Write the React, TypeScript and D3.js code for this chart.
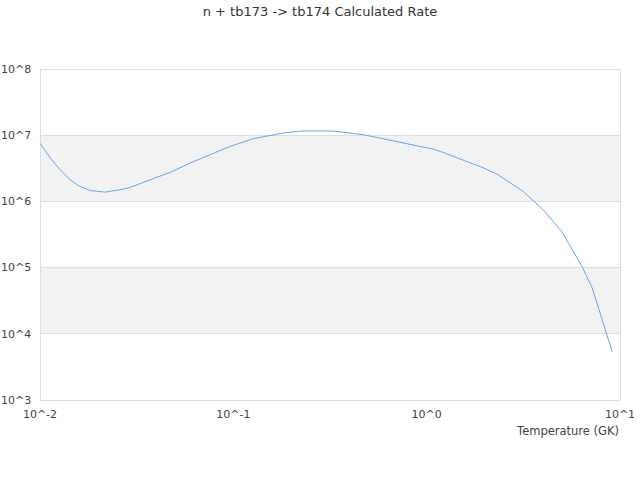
import { useEffect, useRef } from 'react';
import * as d3 from 'd3';

// temperature grid (GK) and calculated rate
const temps = [0.01, 0.0113, 0.0127, 0.0143, 0.0161, 0.0182, 0.0217, 0.0259, 0.0292, 0.0371,
  0.0471, 0.0597, 0.0757, 0.0961, 0.1265, 0.181, 0.226, 0.328, 0.469, 0.67,
  0.924, 1.08, 1.27, 1.74, 1.89, 2.31, 3.16, 4.01, 5.01, 6.37, 7.18, 9.1];
const rates = [7.55e6, 4.52e6, 3.01e6, 2.12e6, 1.68e6, 1.46e6, 1.38e6, 1.5e6, 1.62e6, 2.12e6,
  2.74e6, 3.79e6, 5.06e6, 6.76e6, 8.84e6, 1.08e7, 1.156e7, 1.156e7, 1.02e7, 8.24e6,
  6.76e6, 6.18e6, 5.25e6, 3.67e6, 3.37e6, 2.59e6, 1.41e6, 7.46e5, 3.47e5, 1.03e5, 4.94e4, 5.42e3];

const xTicks = [0.01, 0.1, 1, 10];
const xTickLabels = ['10^-2', '10^-1', '10^0', '10^1'];
const yTicks = [1e3, 1e4, 1e5, 1e6, 1e7, 1e8];
const yTickLabels = ['10^3', '10^4', '10^5', '10^6', '10^7', '10^8'];

const title = 'n + tb173 -> tb174 Calculated Rate';
const xTitle = 'Temperature (GK)';

const W = 640;
const H = 480;
const margin = { top: 69, right: 20, bottom: 80, left: 40 };

export default function App() {
  const svgRef = useRef(null);

  useEffect(() => {
    const svg = d3.select(svgRef.current);
    svg.selectAll('*').remove();

    const width = W - margin.left - margin.right;
    const height = H - margin.top - margin.bottom;
    const font = '"DejaVu Sans", sans-serif';

    const x = d3.scaleLog().domain([0.01, 10]).range([margin.left, margin.left + width]);
    const y = d3.scaleLog().domain([1e3, 1e8]).range([margin.top + height, margin.top]);

    svg.append('rect').attr('width', W).attr('height', H).attr('fill', '#fff');

    // alternating bands
    for (let i = 0; i < yTicks.length - 1; i++) {
      if (i % 2 === 1) {
        svg.append('rect')
          .attr('x', x(0.01))
          .attr('y', y(yTicks[i + 1]))
          .attr('width', width)
          .attr('height', y(yTicks[i]) - y(yTicks[i + 1]))
          .attr('fill', '#f2f2f2');
      }
    }

    // grid lines
    svg.append('g').selectAll('line')
      .data(yTicks)
      .join('line')
      .attr('x1', x(0.01))
      .attr('x2', x(10))
      .attr('y1', d => y(d))
      .attr('y2', d => y(d))
      .attr('stroke', '#dedede')
      .attr('stroke-width', 1)
      .attr('shape-rendering', 'crispEdges');

    svg.append('line')
      .attr('x1', x(0.01)).attr('x2', x(0.01))
      .attr('y1', y(1e8)).attr('y2', y(1e3))
      .attr('stroke', '#dedede').attr('shape-rendering', 'crispEdges');
    svg.append('line')
      .attr('x1', x(10)).attr('x2', x(10))
      .attr('y1', y(1e8)).attr('y2', y(1e3))
      .attr('stroke', '#dedede').attr('shape-rendering', 'crispEdges');

    // y tick labels
    svg.append('g').selectAll('text')
      .data(yTicks)
      .join('text')
      .attr('x', 1)
      .attr('y', d => y(d))
      .attr('dy', '0.35em')
      .attr('font-family', font)
      .attr('font-size', 11)
      .attr('fill', '#444')
      .text((d, i) => yTickLabels[i]);

    // x tick labels
    svg.append('g').selectAll('text')
      .data(xTicks)
      .join('text')
      .attr('x', d => x(d))
      .attr('y', y(1e3) + 18)
      .attr('text-anchor', 'middle')
      .attr('font-family', font)
      .attr('font-size', 11)
      .attr('fill', '#444')
      .text((d, i) => xTickLabels[i]);

    svg.append('text')
      .attr('x', x(10) - 1)
      .attr('y', y(1e3) + 35)
      .attr('text-anchor', 'end')
      .attr('font-family', font)
      .attr('font-size', 11.5)
      .attr('fill', '#444')
      .text(xTitle);

    svg.append('text')
      .attr('x', W / 2)
      .attr('y', 16)
      .attr('text-anchor', 'middle')
      .attr('font-family', font)
      .attr('font-size', 13)
      .attr('fill', '#333')
      .text(title);

    const line = d3.line<number>()
      .x((d, i) => x(temps[i]))
      .y(d => y(d));

    svg.append('path')
      .datum(rates)
      .attr('d', line)
      .attr('fill', 'none')
      .attr('stroke', '#5ea8f2')
      .attr('stroke-width', 1);
  }, []);

  return (
    <svg
      ref={svgRef}
      width={W}
      height={H}
      style={{ position: 'absolute', left: 0, top: 0 }}
    />
  );
}
